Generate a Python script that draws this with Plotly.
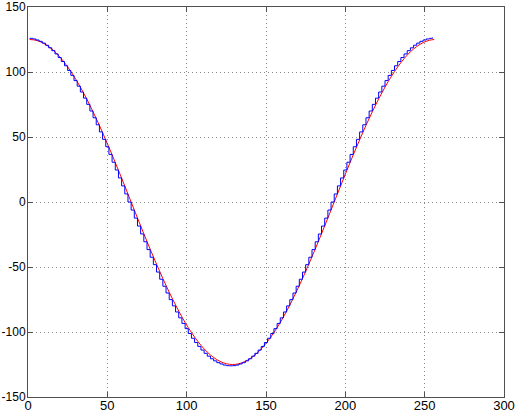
import plotly.graph_objects as go

# Smooth reference cosine (red), sampled every 4 samples
red_x = [1, 5, 9, 13, 17, 21, 25, 29, 33, 37, 41, 45, 49, 53, 57, 61, 65, 69, 73, 77,
         81, 85, 89, 93, 97, 101, 105, 109, 113, 117, 121, 125, 129, 133, 137, 141, 145,
         149, 153, 157, 161, 165, 169, 173, 177, 181, 185, 189, 193, 197, 201, 205, 209,
         213, 217, 221, 225, 229, 233, 237, 241, 245, 249, 253, 256]
red_y = [125.0, 124.4, 122.6, 119.6, 115.5, 110.2, 103.9, 96.6, 88.4, 79.3, 69.4, 58.9,
         47.8, 36.3, 24.4, 12.3, 0.0, -12.3, -24.4, -36.3, -47.8, -58.9, -69.4, -79.3,
         -88.4, -96.6, -103.9, -110.2, -115.5, -119.6, -122.6, -124.4, -125.0, -124.4,
         -122.6, -119.6, -115.5, -110.2, -103.9, -96.6, -88.4, -79.3, -69.4, -58.9, -47.8,
         -36.3, -24.4, -12.3, 0.0, 12.3, 24.4, 36.3, 47.8, 58.9, 69.4, 79.3, 88.4, 96.6,
         103.9, 110.2, 115.5, 119.6, 122.6, 124.4, 125.0]

# Quantised / stepped signal (blue), every 2 samples
blue_x = [1, 3, 5, 7, 9, 11, 13, 15, 17, 19, 21, 23, 25, 27, 29, 31, 33, 35, 37, 39,
          41, 43, 45, 47, 49, 51, 53, 55, 57, 59, 61, 63, 65, 67, 69, 71, 73, 75, 77, 79,
          81, 83, 85, 87, 89, 91, 93, 95, 97, 99, 101, 103, 105, 107, 109, 111, 113, 115,
          117, 119, 121, 123, 125, 127, 129, 131, 133, 135, 137, 139, 141, 143, 145, 147,
          149, 151, 153, 155, 157, 159, 161, 163, 165, 167, 169, 171, 173, 175, 177, 179,
          181, 183, 185, 187, 189, 191, 193, 195, 197, 199, 201, 203, 205, 207, 209, 211,
          213, 215, 217, 219, 221, 223, 225, 227, 229, 231, 233, 235, 237, 239, 241, 243,
          245, 247, 249, 251, 253, 255, 256]
blue_y = [125.9, 125.4, 124.6, 123.6, 122.2, 120.6, 118.6, 116.4, 113.9, 111.1, 108.1,
          104.8, 101.2, 97.4, 93.4, 89.1, 84.6, 79.9, 75.1, 70.0, 64.8, 59.4, 53.9, 48.2,
          42.5, 36.6, 30.6, 24.6, 18.5, 12.4, 6.2, 0.0, -6.2, -12.4, -18.5, -24.6, -30.6,
          -36.6, -42.5, -48.2, -53.9, -59.4, -64.8, -70.0, -75.1, -79.9, -84.6, -89.1,
          -93.4, -97.4, -101.2, -104.8, -108.1, -111.1, -113.9, -116.4, -118.6, -120.6,
          -122.2, -123.6, -124.6, -125.4, -125.9, -126.0, -125.9, -125.4, -124.6, -123.6,
          -122.2, -120.6, -118.6, -116.4, -113.9, -111.1, -108.1, -104.8, -101.2, -97.4,
          -93.4, -89.1, -84.6, -79.9, -75.1, -70.0, -64.8, -59.4, -53.9, -48.2, -42.5,
          -36.6, -30.6, -24.6, -18.5, -12.4, -6.2, 0.0, 6.2, 12.4, 18.5, 24.6, 30.6, 36.6,
          42.5, 48.2, 53.9, 59.4, 64.8, 70.0, 75.1, 79.9, 84.6, 89.1, 93.4, 97.4, 101.2,
          104.8, 108.1, 111.1, 113.9, 116.4, 118.6, 120.6, 122.2, 123.6, 124.6, 125.4,
          125.9, 126.5]

x_ticks = [0, 50, 100, 150, 200, 250, 300]
y_ticks = [-150, -100, -50, 0, 50, 100, 150]

fig = go.Figure()
fig.add_trace(go.Scatter(x=red_x, y=red_y, mode="lines", line=dict(color="#ff0000", width=1, shape="spline")))
fig.add_trace(go.Scatter(x=blue_x, y=blue_y, mode="lines", line=dict(color="#0000ff", width=1, shape="hv")))

axis_common = dict(
    showline=True, linecolor="#505050", linewidth=1, mirror="ticks",
    ticks="inside", ticklen=5, tickcolor="#505050",
    showgrid=True, gridcolor="#8a8a8a", griddash="1px,3px", gridwidth=1,
    zeroline=False, automargin=False,
)
fig.update_xaxes(range=[0, 300], tickvals=x_ticks, ticktext=[str(v) for v in x_ticks],
                 ticklabelstandoff=-4,
                 tickfont=dict(family="Liberation Sans, Arial, sans-serif", size=13, color="black"),
                 **axis_common)
fig.update_yaxes(range=[-150, 150], tickvals=y_ticks, ticktext=[str(v) for v in y_ticks],
                 ticklabelstandoff=-1,
                 tickfont=dict(family="Liberation Sans, Arial, sans-serif", size=12, color="black"),
                 **axis_common)
fig.update_layout(
    width=516, height=412, showlegend=False,
    margin=dict(l=28, r=12, t=7, b=15),
    paper_bgcolor="white", plot_bgcolor="white",
)
fig.write_html("out.html", config={"displayModeBar": False},
               post_script="document.body.style.margin='0';document.body.style.overflow='hidden';")
